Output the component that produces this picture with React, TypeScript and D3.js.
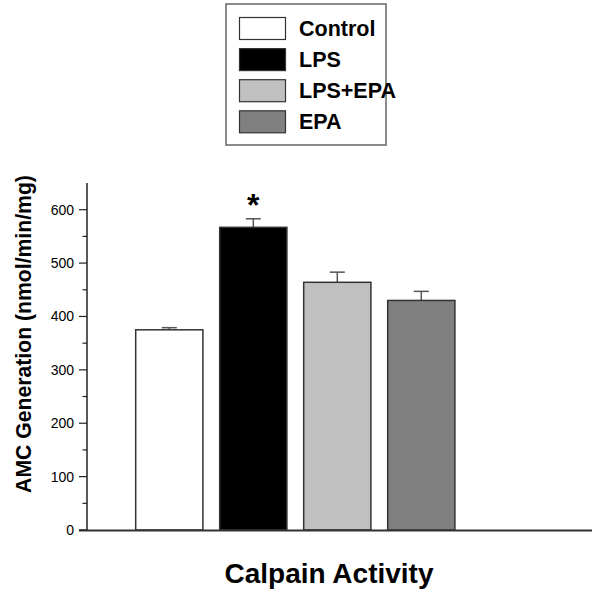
import React from "react";
import * as d3 from "d3";

const categories = ["Control", "LPS", "LPS+EPA", "EPA"];
const values = [375, 567, 464, 430];
const errors = [4, 16, 19, 17];
const colors = ["#ffffff", "#000000", "#c0c0c0", "#808080"];
const yTicks = [0, 100, 200, 300, 400, 500, 600];
const minorTicks = [50, 150, 250, 350, 450, 550];
const significant = [false, true, false, false];

export default function App() {
  const W = 600, H = 602;
  const x0 = 87, xEnd = 592;
  const y = d3.scaleLinear().domain([0, 650]).range([530, 183]);
  const x = d3.scaleBand().domain(categories).range([127.3, 463.3]).paddingInner(0.2).paddingOuter(0.1);
  const font = "Arial, 'Liberation Sans', Helvetica, sans-serif";
  const bw = x.bandwidth();
  return (
    <svg width={W} height={H} style={{ position: "absolute", left: 0, top: 0 }} fontFamily={font}>
      <rect x={0} y={0} width={W} height={H} fill="#fff" />
      {/* legend */}
      <rect x={226} y={4} width={160} height={141} fill="#fff" stroke="#666" strokeWidth={1.5} />
      {categories.map((c, i) => (
        <g key={c}>
          <rect x={239.5} y={17.5 + i * 31.1} width={46} height={22} fill={colors[i]} stroke="#333" strokeWidth={1.2} />
          <text x={299} y={36 + i * 31.1} fontSize={21.5} fontWeight="bold" fill="#000">{c}</text>
        </g>
      ))}
      {/* bars */}
      {categories.map((c, i) => {
        const bx = x(c)!;
        const top = y(values[i]);
        const cx = bx + bw / 2;
        const et = y(values[i] + errors[i]);
        return (
          <g key={c}>
            <line x1={cx} x2={cx} y1={top} y2={et} stroke="#555" strokeWidth={1.5} />
            <line x1={cx - 7.5} x2={cx + 7.5} y1={et} y2={et} stroke="#555" strokeWidth={1.5} />
            <rect x={bx} y={top} width={bw} height={530 - top} fill={colors[i]} stroke="#333" strokeWidth={1.5} />
            {significant[i] && (
              <text x={cx} y={et - 3} textAnchor="middle" fontSize={32} fontWeight="bold" fill="#000">*</text>
            )}
          </g>
        );
      })}
      {/* axes */}
      <line x1={x0} x2={x0} y1={y(650)} y2={531} stroke="#222" strokeWidth={1.5} />
      <line x1={x0 - 8} x2={xEnd} y1={530.5} y2={530.5} stroke="#333" strokeWidth={2} />
      {yTicks.map((t) => (
        <g key={t}>
          <line x1={x0 - 8} x2={x0} y1={y(t)} y2={y(t)} stroke="#222" strokeWidth={1.2} />
          <text x={74} y={y(t) + 5} textAnchor="end" fontSize={14} fill="#000">{t}</text>
        </g>
      ))}
      {minorTicks.map((t) => (
        <line key={t} x1={x0 - 4.5} x2={x0} y1={y(t)} y2={y(t)} stroke="#222" strokeWidth={1.2} />
      ))}
      <text transform={`translate(31,334) rotate(-90)`} textAnchor="middle" fontSize={21.2} fontWeight="bold" fill="#000">
        AMC Generation (nmol/min/mg)
      </text>
      <text x={329} y={583} textAnchor="middle" fontSize={28} fontWeight="bold" fill="#000">Calpain Activity</text>
    </svg>
  );
}
